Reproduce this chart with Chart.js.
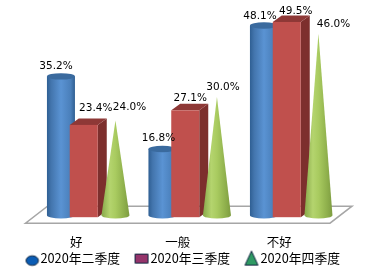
<!DOCTYPE html>
<html>
<head>
<meta charset="utf-8">
<script src="https://cdn.jsdelivr.net/npm/chart.js@4"></script>
<style>
html, body { margin: 0; padding: 0; background: #fff; }
canvas { display: block; }
</style>
</head>
<body>
<canvas id="chart" width="378" height="272"></canvas>
<script>
const categories = ['好', '一般', '不好'];
const seriesNames = ['2020年二季度', '2020年三季度', '2020年四季度'];
const q2Values = [35.2, 16.8, 48.1];
const q3Values = [23.4, 27.1, 49.5];
const q4Values = [24.0, 30.0, 46.0];

// horizontal shift of each series from the category centre
const seriesShift = [-15.3, 7.5, 39.2];
// where each value label sits relative to the top of its mark
const labelNudge = [
    [[-5, -10], [-4, -11], [-4, -9.5]],
    [[12, -17], [5, -12.5], [9, -11]],
    [[14, -13], [6, -10], [15, -10]]
];
const shapeWidth = 28;

function horizontalGradient(ctx, left, right, stops) {
    const g = ctx.createLinearGradient(left, 0, right, 0);
    stops.forEach(s => g.addColorStop(s[0], s[1]));
    return g;
}

function drawCylinder(ctx, x, top, base) {
    const rx = shapeWidth / 2, ry = 3.2;
    ctx.fillStyle = horizontalGradient(ctx, x - rx, x + rx, [
        [0, '#2f5f93'], [0.15, '#4375ad'], [0.5, '#5a93d3'], [0.85, '#4a7fba'], [1, '#305f92']
    ]);
    ctx.beginPath();
    ctx.moveTo(x - rx, top);
    ctx.lineTo(x - rx, base);
    ctx.ellipse(x, base, rx, ry, 0, Math.PI, 0, true);
    ctx.lineTo(x + rx, top);
    ctx.closePath();
    ctx.fill();
    ctx.fillStyle = '#3a6a9e';
    ctx.beginPath();
    ctx.ellipse(x, top, rx, ry, 0, 0, Math.PI * 2);
    ctx.fill();
}

function drawBox(ctx, x, top, base) {
    const hw = shapeWidth / 2, dx = 9, dy = 6.5;
    const l = x - hw, r = x + hw;
    ctx.fillStyle = '#7d2f2d';
    ctx.beginPath();
    ctx.moveTo(r, top);
    ctx.lineTo(r + dx, top - dy);
    ctx.lineTo(r + dx, base - dy);
    ctx.lineTo(r, base);
    ctx.closePath();
    ctx.fill();
    ctx.fillStyle = '#8e3836';
    ctx.beginPath();
    ctx.moveTo(l, top);
    ctx.lineTo(l + dx, top - dy);
    ctx.lineTo(r + dx, top - dy);
    ctx.lineTo(r, top);
    ctx.closePath();
    ctx.fill();
    ctx.fillStyle = '#c0504d';
    ctx.fillRect(l, top, shapeWidth, base - top);
}

function drawCone(ctx, x, top, base) {
    const rx = shapeWidth / 2, ry = 3.4;
    ctx.fillStyle = horizontalGradient(ctx, x - rx, x + rx, [
        [0, '#87a84a'], [0.3, '#b4d46e'], [0.5, '#a9cb60'], [0.8, '#8fb04c'], [1, '#7d9c40']
    ]);
    ctx.beginPath();
    ctx.moveTo(x, top);
    ctx.lineTo(x - rx, base);
    ctx.ellipse(x, base, rx, ry, 0, Math.PI, 0, true);
    ctx.closePath();
    ctx.fill();
}

function legendMarker(kind) {
    const c = document.createElement('canvas');
    c.width = 24; c.height = 24;
    const g = c.getContext('2d');
    g.strokeStyle = '#10253f';
    g.lineWidth = 1;
    g.beginPath();
    if (kind === 0) {
        g.fillStyle = '#0a5cb4';
        g.ellipse(14.7, 14, 6.2, 4.8, 0, 0, Math.PI * 2);
    } else if (kind === 1) {
        g.fillStyle = '#95346b';
        g.rect(7.5, 7.5, 13, 9);
    } else {
        g.fillStyle = '#2e9a63';
        g.moveTo(14, 4.5);
        g.lineTo(20.5, 18.5);
        g.lineTo(7.5, 18.5);
        g.closePath();
    }
    g.fill();
    g.stroke();
    return c;
}

const markers = [legendMarker(0), legendMarker(1), legendMarker(2)];

const shapes3d = {
    id: 'shapes3d',
    beforeDatasetsDraw(chart) {
        const ctx = chart.ctx, xs = chart.scales.x, base = chart.scales.y.bottom;
        ctx.save();
        ctx.strokeStyle = '#a6a6a6';
        ctx.lineWidth = 1.5;
        ctx.fillStyle = '#fff';
        ctx.beginPath();
        ctx.moveTo(xs.left, base + 8);
        ctx.lineTo(xs.right, base + 8);
        ctx.lineTo(xs.right + 22, base - 9);
        ctx.lineTo(xs.left + 22, base - 9);
        ctx.closePath();
        ctx.fill();
        ctx.stroke();
        ctx.restore();
    },
    afterDatasetsDraw(chart) {
        const ctx = chart.ctx;
        ctx.save();
        chart.data.datasets.forEach((ds, d) => {
            chart.getDatasetMeta(d).data.forEach(bar => {
                const x = bar.x + seriesShift[d];
                if (d === 0) drawCylinder(ctx, x, bar.y, bar.base);
                if (d === 1) drawBox(ctx, x, bar.y + 2, bar.base + 2);
                if (d === 2) drawCone(ctx, x, bar.y, bar.base);
            });
        });
        ctx.font = '10.5px "DejaVu Sans"';
        ctx.fillStyle = '#000';
        ctx.textAlign = 'center';
        ctx.textBaseline = 'middle';
        chart.data.datasets.forEach((ds, d) => {
            chart.getDatasetMeta(d).data.forEach((bar, i) => {
                const n = labelNudge[d][i];
                const top = bar.y + (d === 1 ? 2 : 0);
                ctx.fillText(ds.data[i].toFixed(1) + '%', bar.x + seriesShift[d] + n[0], top + n[1]);
            });
        });
        ctx.restore();
    },
    afterLayout(chart) {
        chart.legend.left -= 13;
        chart.legend.top -= 12;
    }
};

new Chart(document.getElementById('chart'), {
    type: 'bar',
    data: {
        labels: categories,
        datasets: [
            { label: seriesNames[0], data: q2Values, backgroundColor: 'transparent' },
            { label: seriesNames[1], data: q3Values, backgroundColor: 'transparent' },
            { label: seriesNames[2], data: q4Values, backgroundColor: 'transparent' }
        ]
    },
    plugins: [shapes3d],
    options: {
        responsive: false,
        animation: false,
        datasets: { bar: { grouped: false, barThickness: shapeWidth } },
        layout: { padding: { top: 18, left: 0, right: 0, bottom: -15 } },
        scales: {
            x: {
                grid: { display: false },
                border: { display: false },
                ticks: { color: '#000', padding: 12, font: { family: '"Noto Sans CJK SC"', size: 12.5 }, maxRotation: 0 },
                afterFit: s => { s.height = 34; }
            },
            y: {
                min: 0,
                max: 50,
                grid: { display: false },
                border: { display: false },
                ticks: { display: false },
                afterFit: s => { s.width = 25.5; }
            },
            yRight: {
                position: 'right',
                grid: { display: false },
                border: { display: false },
                ticks: { display: false },
                afterFit: s => { s.width = 48; }
            }
        },
        plugins: {
            tooltip: { enabled: false },
            legend: {
                position: 'bottom',
                labels: {
                    color: '#000',
                    font: { family: '"Noto Sans CJK SC"', size: 12.8 },
                    usePointStyle: true,
                    pointStyleWidth: 9,
                    padding: 15,
                    generateLabels: chart => chart.data.datasets.map((ds, i) => ({
                        text: ds.label,
                        fontColor: '#000',
                        pointStyle: markers[i],
                        datasetIndex: i,
                        lineWidth: 0
                    }))
                }
            }
        }
    }
});
</script>
</body>
</html>
